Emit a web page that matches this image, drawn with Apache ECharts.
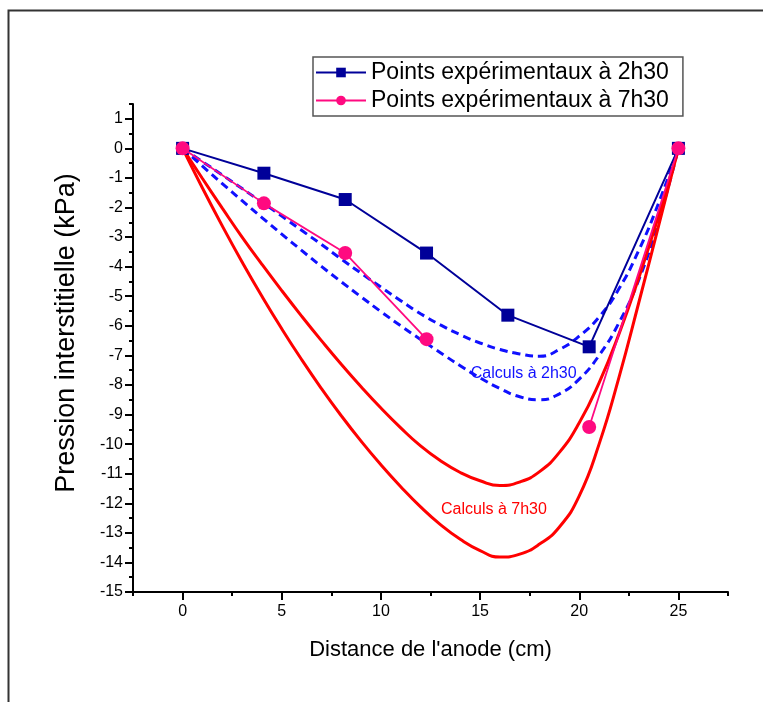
<!DOCTYPE html>
<html>
<head>
<meta charset="utf-8">
<script src="https://cdn.jsdelivr.net/npm/echarts@6/dist/echarts.min.js"></script>
<style>
html,body{margin:0;padding:0;background:#fff;}
#chart{width:763px;height:702px;}
</style>
</head>
<body>
<div id="chart"></div>
<script>
// ---- data ----
const xExp = [0, 4.1, 8.2, 12.3, 16.4, 20.5, 25];
const pExp2h30 = [0, -0.84, -1.73, -3.54, -5.64, -6.71, 0];
const pExp7h30 = [0, -1.86, -3.54, -6.45, null, -9.42, 0];

const xCalc = [0,1,2,3,4,5,6,7,8,9,10,11,12,13,14,15,16,17,18,19,20,21,22,23,24,25];
const calc2h30A = [0,-0.45,-0.9,-1.36,-1.82,-2.29,-2.77,-3.25,-3.74,-4.22,-4.69,-5.15,-5.59,-5.97,-6.3,-6.58,-6.8,-6.95,-7.03,-6.8,-6.35,-5.7,-4.75,-3.45,-1.85,0];
const calc2h30B = [0,-0.6,-1.19,-1.77,-2.34,-2.9,-3.45,-3.99,-4.51,-5.02,-5.52,-6.0,-6.46,-6.91,-7.35,-7.76,-8.12,-8.4,-8.5,-8.3,-7.8,-7.0,-5.9,-4.45,-2.45,0];
const calc7h30A = [0,-1.02,-2.02,-3.0,-3.92,-4.81,-5.67,-6.5,-7.3,-8.06,-8.78,-9.45,-10.06,-10.56,-10.96,-11.24,-11.4,-11.28,-10.93,-10.28,-9.28,-7.93,-6.28,-4.38,-2.28,0];
const calc7h30B = [0,-1.34,-2.62,-3.84,-5.0,-6.1,-7.14,-8.12,-9.04,-9.9,-10.7,-11.44,-12.12,-12.72,-13.22,-13.6,-13.82,-13.72,-13.38,-12.8,-11.75,-10.0,-7.75,-5.22,-2.62,0];

const xMajorTicks = [0, 5, 10, 15, 20, 25];
const xMinorTicks = [-2.5, 2.5, 7.5, 12.5, 17.5, 22.5, 27.5];
const yMajorTicks = [-15,-14,-13,-12,-11,-10,-9,-8,-7,-6,-5,-4,-3,-2,-1,0,1];
const yMinorTicks = [-14.5,-13.5,-12.5,-11.5,-10.5,-9.5,-8.5,-7.5,-6.5,-5.5,-4.5,-3.5,-2.5,-1.5,-0.5,0.5,1.5];

const seriesNames = ['Points expérimentaux à 2h30', 'Points expérimentaux à 7h30'];
const calcLabels = ['Calculs à 2h30', 'Calculs à 7h30'];
const calcLabelAt = [[17.2, -7.6], [15.7, -12.2]];
const xTitle = "Distance de l'anode (cm)";
const yTitle = 'Pression interstitielle (kPa)';

// ---- chart ----
const FONT = "'Liberation Sans', Arial, Helvetica, sans-serif";
const zip = (xs, ys) => xs.map((x, i) => [x, ys[i] === null ? null : ys[i]]);
const chart = echarts.init(document.getElementById('chart'), null, {renderer: 'canvas'});

const axisLineStyle = {color: '#000', width: 2};
const calcSeries = (name, ys, color, dashed, label, at) => ({
  name: name, type: 'line', xAxisIndex: 0, yAxisIndex: 0,
  data: zip(xCalc, ys), smooth: 0.5, showSymbol: false, symbol: 'none',
  lineStyle: {color: color, width: 3, type: dashed ? [8, 5] : 'solid'},
  z: 2,
  markPoint: label ? {
    symbol: 'circle', symbolSize: 0, silent: true,
    label: {show: true, position: 'inside', formatter: label, color: color, fontSize: 16, fontFamily: FONT},
    data: [{coord: at}]
  } : undefined
});

chart.setOption({
  animation: false,
  backgroundColor: '#fff',
  textStyle: {fontFamily: FONT},
  grid: {left: 133, right: 35, top: 104, bottom: 110, containLabel: false},
  legend: {
    data: seriesNames,
    orient: 'vertical', left: 313, top: 57,
    itemWidth: 50, itemHeight: 12, itemGap: 5,
    padding: [4, 14, 4, 2],
    borderColor: '#555', borderWidth: 1.5,
    backgroundColor: '#fff',
    textStyle: {fontSize: 23, color: '#000', fontFamily: FONT}
  },
  xAxis: [{
    type: 'value', min: -2.5, max: 27.5, position: 'bottom',
    name: xTitle, nameLocation: 'middle', nameGap: 47,
    nameTextStyle: {fontSize: 22, color: '#000', fontFamily: FONT},
    axisLine: {show: true, onZero: false, lineStyle: axisLineStyle},
    axisTick: {show: true, length: 8, lineStyle: axisLineStyle, customValues: xMajorTicks},
    axisLabel: {show: true, fontSize: 16, color: '#000', margin: 12, customValues: xMajorTicks},
    splitLine: {show: false}
  }, {
    type: 'value', min: -2.5, max: 27.5, position: 'bottom',
    axisLine: {show: false, onZero: false},
    axisTick: {show: true, length: 4, lineStyle: axisLineStyle, customValues: xMinorTicks},
    axisLabel: {show: false},
    splitLine: {show: false}
  }],
  yAxis: [{
    type: 'value', min: -15, max: 1.5, position: 'left',
    axisLine: {show: true, onZero: false, lineStyle: axisLineStyle},
    axisTick: {show: true, length: 8, lineStyle: axisLineStyle, customValues: yMajorTicks},
    axisLabel: {show: true, fontSize: 16, color: '#000', margin: 10, customValues: yMajorTicks},
    splitLine: {show: false}
  }, {
    type: 'value', min: -15, max: 1.5, position: 'left',
    axisLine: {show: false, onZero: false},
    axisTick: {show: true, length: 4, lineStyle: axisLineStyle, customValues: yMinorTicks},
    axisLabel: {show: false},
    splitLine: {show: false}
  }],
  graphic: [{
    type: 'rect', left: 6, top: 8, silent: true,
    shape: {width: 780, height: 720},
    style: {fill: 'none', stroke: '#333', lineWidth: 2}
  }, {
    type: 'text', silent: true,
    x: 67, y: 333, rotation: Math.PI / 2,
    style: {text: yTitle, fontSize: 27, fill: '#000', fontFamily: FONT, align: 'center', verticalAlign: 'middle'}
  }],
  series: [
    calcSeries('calc2h30A', calc2h30A, '#1010ff', true, calcLabels[0], calcLabelAt[0]),
    calcSeries('calc2h30B', calc2h30B, '#1010ff', true, null, null),
    calcSeries('calc7h30A', calc7h30A, '#ff0000', false, calcLabels[1], calcLabelAt[1]),
    calcSeries('calc7h30B', calc7h30B, '#ff0000', false, null, null),
    {
      name: seriesNames[0], type: 'line', xAxisIndex: 0, yAxisIndex: 0,
      data: zip(xExp, pExp2h30),
      symbol: 'rect', symbolSize: 13,
      itemStyle: {color: '#000099'},
      lineStyle: {color: '#000099', width: 2},
      z: 4
    },
    {
      name: seriesNames[1], type: 'line', xAxisIndex: 0, yAxisIndex: 0,
      data: zip(xExp, pExp7h30), connectNulls: false,
      symbol: 'circle', symbolSize: 14,
      itemStyle: {color: '#ff0a80'},
      lineStyle: {color: '#ff0a80', width: 1.8},
      z: 5
    }
  ]
});
</script>
</body>
</html>
